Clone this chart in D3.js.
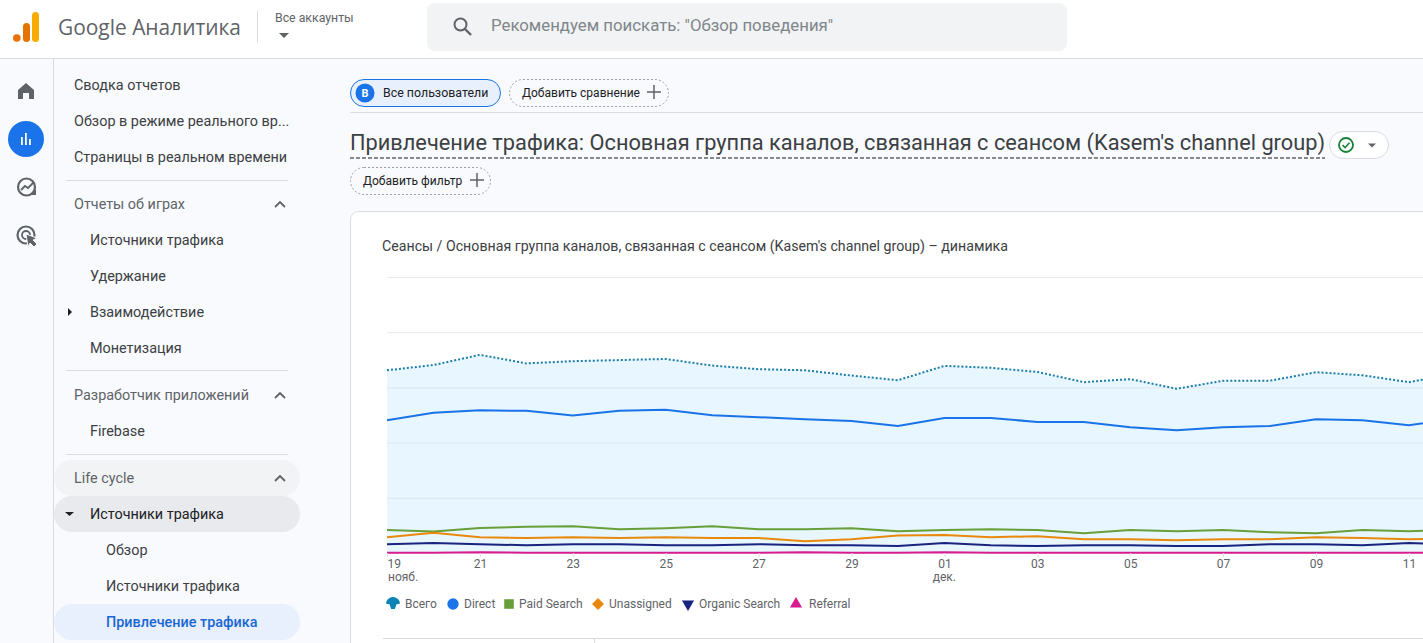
<!DOCTYPE html>
<html lang="ru"><head><meta charset="utf-8">
<script src="https://cdn.jsdelivr.net/npm/d3@7"></script>
<style>html,body{margin:0;padding:0;background:#fff;overflow:hidden}svg{display:block;font-family:Roboto,sans-serif}</style>
</head><body><svg id="c" width="1423" height="643"></svg>
<script>
const days=["19","20","21","22","23","24","25","26","27","28","29","30","01","02","03","04","05","06","07","08","09","10","11","12"];
const tickDays=["19","21","23","25","27","29","01","03","05","07","09","11"];
const monthLabels={"19":"нояб.","01":"дек."};
const total=[662,681,718,687,695,699,703,679,666,662,643,626,678,671,656,619,630,595,624,624,655,644,619,650];
const direct=[481,508,517,515,498,515,519,499,492,485,478,460,489,489,475,475,456,445,456,460,485,481,463,487];
const paidSearch=[83,78,91,95,97,86,90,97,86,86,90,79,83,86,83,72,83,79,83,75,72,83,79,83];
const unassigned=[57,73,57,54,57,54,57,54,54,43,50,63,65,57,61,50,50,46,50,50,57,54,50,51];
const organic=[32,36,32,28,32,32,28,28,32,28,28,25,36,28,25,28,28,25,25,32,32,28,36,32];
const referral=[1,1,3,1,1,1,1,1,1,3,1,1,3,1,1,1,1,1,1,1,1,1,1,1];
const seriesNames=["Всего","Direct","Paid Search","Unassigned","Organic Search","Referral"];
const navMain=["Сводка отчетов","Обзор в режиме реального вр...","Страницы в реальном времени"];
const chartTitle="Сеансы / Основная группа каналов, связанная с сеансом (Kasem's channel group) – динамика";
const pageTitle="Привлечение трафика: Основная группа каналов, связанная с сеансом (Kasem's channel group)";

const svg=d3.select("#c");
const T=(s,x,y,size,fill,opt={})=>{const t=svg.append("text").attr("x",x).attr("y",y).attr("font-size",size).attr("fill",fill).text(s);
  if(opt.anchor)t.attr("text-anchor",opt.anchor); if(opt.weight)t.attr("font-weight",opt.weight); if(opt.family)t.attr("font-family",opt.family); return t;};
const R=(x,y,w,h,r,fill,stroke,dash)=>{const e=svg.append("rect").attr("x",x).attr("y",y).attr("width",w).attr("height",h).attr("rx",r).attr("fill",fill).attr("stroke",stroke||"none");if(dash)e.attr("stroke-dasharray",dash);return e;};
const L=(x1,y1,x2,y2,c,w=1,dash)=>{const e=svg.append("line").attr("x1",x1).attr("y1",y1).attr("x2",x2).attr("y2",y2).attr("stroke",c).attr("stroke-width",w);if(dash)e.attr("stroke-dasharray",dash);return e;};
const P=(d,fill,stroke,w)=>svg.append("path").attr("d",d).attr("fill",fill).attr("stroke",stroke||"none").attr("stroke-width",w||0);

// page
R(0,58,1423,585,0,"#f8fafd");
R(0,0,1423,58,0,"#fff");
L(0,58.5,1423,58.5,"#dadce0");
L(53.5,59,53.5,643,"#dadce0");
// logo
svg.append("circle").attr("cx",16.8).attr("cy",38).attr("r",3.8).attr("fill","#e8710a");
R(23,23,7,19,3.5,"#e37400");
R(32,12,7,30,3.5,"#f9ab00");
T("Google Аналитика",58,35,22,"#5f6368",{family:"'Open Sans',sans-serif"}).attr("textLength",183).attr("lengthAdjust","spacingAndGlyphs");
L(257.5,11,257.5,43,"#dadce0");
T("Все аккаунты",275,22,12.3,"#5f6368");
P("M279 33h10l-5 5z","#5f6368");
// search
R(427,3,640,48,8,"#f1f3f4");
svg.append("circle").attr("cx",460.5).attr("cy",24.5).attr("r",6).attr("fill","none").attr("stroke","#5f6368").attr("stroke-width",2);
L(465,29,471,35,"#5f6368",2.4);
T('Рекомендуем поискать: "Обзор поведения"',491,31,16.8,"#80868b");
// rail icons
P("M18 99V90l8-7 8 7v9h-5v-6h-6v6z","#5f6368");
svg.append("circle").attr("cx",26).attr("cy",139).attr("r",18).attr("fill","#1a73e8");
R(21,137,1.8,8,0,"#fff");R(25,133,1.8,12,0,"#fff");R(29,139,1.8,6,0,"#fff");
svg.append("circle").attr("cx",26.5).attr("cy",187).attr("r",8.5).attr("fill","none").attr("stroke","#5f6368").attr("stroke-width",2.2);
P("M21 190l4-4 3 2 6-6","none","#5f6368",1.8);
P("M30 195h6v-6z","#5f6368");
svg.append("circle").attr("cx",26).attr("cy",235).attr("r",8.5).attr("fill","none").attr("stroke","#5f6368").attr("stroke-width",2.2);
svg.append("circle").attr("cx",26).attr("cy",235).attr("r",4).attr("fill","none").attr("stroke","#5f6368").attr("stroke-width",1.8);
P("M26 234l11 4-4 2 4 4-3 3-4-4-2 4z","#5f6368","#f8fafd",1);
// nav
const navC="#3c4043",navG="#5f6368",ns=14.4;
navMain.forEach((s,i)=>T(s,74,90+36*i,ns,navC));
L(66,180.5,288,180.5,"#dadce0");
T("Отчеты об играх",74,209,ns,navG);
T("Источники трафика",90,245,ns,navC);
T("Удержание",90,281,ns,navC);
T("Взаимодействие",90,317,ns,navC);
T("Монетизация",90,353,ns,navC);
L(66,370.5,288,370.5,"#dadce0");
T("Разработчик приложений",74,400,ns,navG);
T("Firebase",90,436,ns,navC);
L(66,454.5,288,454.5,"#dadce0");
R(54,460,246,36,18,"#f1f3f4");
R(54,496,246,36,18,"#e8eaed");
R(54,604,246,36,18,"#e8f0fe");
T("Life cycle",74,483,ns,navG);
T("Источники трафика",90,519,ns,"#202124");
T("Обзор",106,555,ns,navC);
T("Источники трафика",106,591,ns,navC);
T("Привлечение трафика",106,627,ns,"#1967d2",{weight:500});
[204,395,478].forEach(y=>P(`M275 ${y+3}l5-5 5 5`,"none","#5f6368",1.8));
P("M68 308l4 4-4 4z","#202124");
P("M65 512h9l-4.5 4z","#202124");
// chips
R(350.5,79.5,150,27,13.5,"#e8f0fe","#1a73e8");
svg.append("circle").attr("cx",365).attr("cy",93).attr("r",9.5).attr("fill","#1a73e8");
T("B",365,97,11,"#fff",{anchor:"middle",weight:700});
T("Все пользователи",383,97,12.4,"#202124");
R(509.5,79.5,159,27,13.5,"none","#9aa0a6","2 2");
T("Добавить сравнение",522,97,12,"#202124");
const plus=(x,y)=>{L(x-7,y,x+7,y,"#5f6368",1.5);L(x,y-7,x,y+7,"#5f6368",1.5);};
plus(654,92);
L(350,112.5,1423,112.5,"#dadce0");
T(pageTitle,350,150,22,"#3c4043").attr("textLength",975).attr("lengthAdjust","spacingAndGlyphs");
L(350,158,1325,158,"#5f6368",1.6,"4 2");
R(1329.5,131.5,59,27,13.5,"#fff","#dadce0");
svg.append("circle").attr("cx",1346).attr("cy",145).attr("r",7).attr("fill","none").attr("stroke","#188038").attr("stroke-width",1.8);
P("M1342.5 145l2.6 2.6 4.4-4.8","none","#188038",1.6);
P("M1368 143.5h8l-4 4z","#5f6368");
R(350.5,167.5,140,27,13.5,"none","#9aa0a6","2 2");
T("Добавить фильтр",363,185,12,"#202124");
plus(477,180);
// card
R(350.5,211.5,1100,460,8,"#fff","#dadce0");
T(chartTitle,382,251,14,"#3c4043").attr("textLength",626).attr("lengthAdjust","spacingAndGlyphs");

// chart
const x=d3.scalePoint().domain(days).range([387,387+46.45*(days.length-1)]);
const y=d3.scaleLinear().domain([0,1000]).range([553,277]);
const grid=svg.append("g").attr("transform","translate(387,0)").call(d3.axisRight(y).tickValues([800,1000]).tickSize(1100).tickFormat(""));
grid.select(".domain").remove();grid.selectAll("line").attr("stroke","#e8eaed");
const cols={total:"#1a7ea8",direct:"#1a73e8",paid:"#689f38",un:"#e8890c",org:"#1a237e",ref:"#d81b8f"};
const line=a=>d3.line().x((d,i)=>x(days[i])).y(d=>y(d))(a);
const area=d3.area().x((d,i)=>x(days[i])).y0(y(0)).y1(d=>y(d));
svg.append("path").attr("d",area(total)).attr("fill","#e8f6ff");
const grid2=svg.append("g").attr("transform","translate(387,0)").call(d3.axisRight(y).tickValues([200,400,600]).tickSize(1100).tickFormat(""));
grid2.select(".domain").remove();grid2.selectAll("line").attr("stroke","#dde6ec");
const drawLine=(a,c,w,dash)=>{const p=svg.append("path").attr("d",line(a)).attr("fill","none").attr("stroke",c).attr("stroke-width",w);if(dash)p.attr("stroke-dasharray",dash);};
drawLine(total,cols.total,2,"2 2");
drawLine(direct,cols.direct,2);
drawLine(paidSearch,cols.paid,2);
drawLine(unassigned,cols.un,2);
drawLine(organic,cols.org,2);
drawLine(referral,cols.ref,2);
// x axis
const ax=svg.append("g").attr("transform","translate(0,553)").call(d3.axisBottom(x).tickValues(tickDays).tickSize(4).tickPadding(3));
ax.select(".domain").remove();
ax.selectAll("line").attr("stroke","#dadce0");
ax.selectAll("text").attr("font-size",12).attr("font-family","Roboto,sans-serif").attr("fill","#5f6368").attr("y",6).attr("dy","9");
ax.selectAll("text").filter(d=>d==="19").attr("text-anchor","start");
tickDays.filter(d=>monthLabels[d]).forEach(d=>{
  const first=d==="19";
  T(monthLabels[d],x(d)+(first?1:0),581,12,"#5f6368",{anchor:first?"start":"middle"});
});
// legend
const legendCol=[cols.total,cols.direct,cols.paid,cols.un,cols.org,cols.ref];
const sym=d3.symbol();
P("M386 603.5a7 6.5 0 0 1 14 0q-1.5 1-3.5.8l-1.6 4.7h-3.8l-1.6-4.7q-2 .2-3.5-.8z","#0b84b5");
const markCx=[393,453,509,598,688,796];
const shapes=[null,d3.symbolCircle,d3.symbolSquare,d3.symbolSquare,d3.symbolTriangle,d3.symbolTriangle];
const sizes=[0,100,92,72,64,64];
const turns=[0,0,0,45,180,0];
seriesNames.forEach((s,i)=>{
  if(i>0){svg.append("path").attr("d",sym.type(shapes[i]).size(sizes[i])()).attr("fill",legendCol[i])
    .attr("transform",`translate(${markCx[i]},${604}) rotate(${turns[i]})`);}
  T(s,[405,464,519,609,699,809][i],608,12,"#5f6368");
});
// table header line
L(383,638.5,1423,638.5,"#dadce0");
L(594.5,638,594.5,643,"#dadce0");
</script></body></html>
